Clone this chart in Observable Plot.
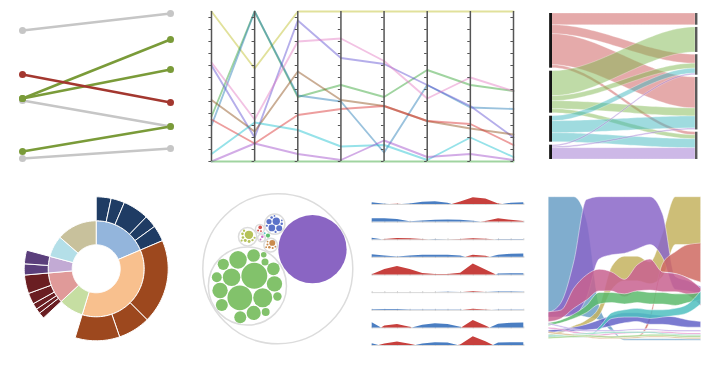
<!DOCTYPE html>
<html><head><meta charset="utf-8">
<script src="https://cdn.jsdelivr.net/npm/d3@7"></script>
<script src="https://cdn.jsdelivr.net/npm/@observablehq/plot@0.6"></script>
<style>
body{margin:0;background:#fff;}
#wrap{position:relative;width:713px;height:372px;overflow:hidden;background:#fff;}
</style></head><body><div id="wrap"></div>
<script>
// ================= DATA =================
// 1. Slope chart
const slopeSeries = ["a","b","c","d","e","f","g"];
const slopeBefore = [130, 62, 62, 86, 60, 9, 2];
const slopeAfter  = [147, 121, 91, 58, 34, 34, 12];
const slopeGroup  = ["neutral","gain","gain","loss","neutral","gain","neutral"];
const slopeColors = {neutral:"#c6c6c6", gain:"#7a9b39", loss:"#a3372f"};

// 2. Parallel coordinates
const parDims = ["d1","d2","d3","d4","d5","d6","d7","d8"];
const parValues = [
  [1.00, 0.62, 1.00, 1.00, 1.00, 1.00, 1.00, 1.00],
  [0.30, 1.00, 0.43, 0.51, 0.43, 0.61, 0.51, 0.47],
  [0.24, 1.00, 0.44, 0.40, 0.06, 0.51, 0.36, 0.35],
  [0.64, 0.16, 0.94, 0.69, 0.65, 0.51, 0.37, 0.16],
  [0.66, 0.28, 0.80, 0.82, 0.67, 0.42, 0.56, 0.47],
  [0.41, 0.20, 0.60, 0.41, 0.37, 0.27, 0.22, 0.18],
  [0.28, 0.12, 0.31, 0.35, 0.37, 0.27, 0.25, 0.11],
  [0.05, 0.26, 0.21, 0.10, 0.11, 0.01, 0.16, 0.03],
  [0.00, 0.12, 0.05, 0.01, 0.14, 0.03, 0.05, 0.01],
  [0.00, 0.00, 0.00, 0.00, 0.00, 0.00, 0.00, 0.00]
];
const parColors = ["#bcbd22","#2ca02c","#1f77b4","#5b4bd1","#e377c2","#8a4a12","#d62728","#17becf","#9b45c8","#2ca02c"];
const parTickValues = [0,0.08,0.16,0.24,0.32,0.40,0.48,0.56,0.64,0.72,0.80,0.88,0.96];

// 3. Sankey
const sankeyLeft = ["A","B","C","D"];
const sankeyRight = ["R1","R2","R3","R4","R5"];
const sankeyFlows = [
  [0,0,11.7],[0,2,9],[0,3,31],[0,4,3],
  [1,1,25],[1,2,5],[1,3,8],[1,4,4],
  [2,2,5],[2,3,12],[2,4,9],
  [3,2,1.5],[3,3,1.5],[3,4,11.3]
];
const sankeyColors = ["#cc5555","#7fb850","#40b8c0","#9b72cf"];

// 4. Sunburst
const sunRing = ["blue","peach","green","rose","lavender","cyan","khaki"];
const sunRingValues = [67, 130, 30, 38, 20, 26, 49];
const sunChildValues = [[12,11,21,10,13],[68,26,36],[],[5,4,5,9,15],[9,11],[],[]];
const sunRingColors = ["#93b5dc","#f8c08e","#c6dea2","#e09a99","#c2aad4","#b4dfe8","#c8c19c"];
const sunChildColors = ["#1f3c64","#9d481e",null,"#6a1e22","#5b3f7c",null,null];

// 5. Circle packing
const packGreen = [151,137,81,69,69,53,53,45,36,36,32,32,28,22,16,14,11,7];
const packPurple = 1043;
const packBlue = [12,10,8,6,1.5,1.5,1,1,0.7,0.7];
const packOlive = [16,2,2,1.5,1.5,1.2,1.2,1,1];
const packOrange = [8,1.5,1,1,0.7,0.7,0.7];
const packRed = [3,0.8,0.8];
const packGreenSmall = 4;
const packPink = [1.5,0.8];
const packCyan = 0.8;
const packColors = {green:"#82c26b",purple:"#8a65c3",blue:"#5b73c9",olive:"#b5c25a",orange:"#c98a4c",red:"#d4504a",greenSmall:"#5fbf6e",pink:"#cf6fc8",cyan:"#5cc3c6"};
const packOrientation = 29.5; // degrees: direction from the green group to the purple circle

// 6. Horizon rows (13 samples each)
const horizonRows = [
  [-0.14,-0.02,0.03,-0.05,-0.18,-0.22,-0.10,0.20,0.55,0.45,0.05,-0.10,-0.14],
  [-0.28,-0.28,-0.22,-0.03,-0.10,-0.15,-0.17,-0.15,-0.08,0.05,0.28,0.15,0.05],
  [-0.12,0.03,0.10,0.08,0.02,-0.02,0.00,0.02,0.08,0.05,-0.02,-0.03,-0.02],
  [-0.22,-0.12,-0.03,-0.12,-0.17,-0.17,-0.17,-0.12,0.18,0.10,-0.18,-0.25,-0.28],
  [0.02,0.45,0.68,0.45,0.12,0.04,0.05,0.15,0.90,0.40,-0.08,-0.11,-0.10],
  [0.00,-0.02,-0.02,0.00,-0.02,-0.02,-0.03,-0.02,0.08,0.00,-0.05,-0.05,-0.03],
  [-0.05,-0.07,-0.07,-0.03,-0.02,-0.02,-0.02,-0.02,0.08,0.02,-0.02,-0.03,-0.02],
  [-0.42,0.15,0.28,0.05,-0.22,-0.33,-0.28,-0.05,0.60,0.15,-0.30,-0.38,-0.39],
  [-0.14,0.12,0.28,0.10,-0.12,-0.22,-0.20,0.05,0.70,0.30,-0.20,-0.22,-0.22]
];
const horizonTicks = [0,1,2,3,4,5,6,7,8,9,10,11,12];

// 7. Stream bands (13 samples: lower and upper edge)
const streamNames = ["blue","olive","purple","red","pink","green","slate","teal","lav","pink2","mint","tan","lgreen"];
const streamLo = [
  [19.5,19.5,19,17,15,7,1,1,1,1,1,1,1],
  [4,6,9,12,18,36,42,42,40,45,67,67,67],
  [17,17,18,30,57,60,61,64,67,58,36,35,33],
  [3,3,3,3,3,3,3,3,14,48,47,44,41],
  [13.8,16,23,28.7,35,35,31,35,35.6,34.5,34.5,32,25],
  [11,13,16,20,26,27,26,27,26,26,25,27,29],
  [6,7,7,8,9,11,13,14,12,12,11,10,10],
  [3,3,3,3,8,16,17,17,16,17,18,20,26],
  [12,10,8,7,7,7,7.5,8,8,7.5,7,7,7],
  [9,8,6,5,4,5,5.5,6,6,6,5.5,5,5],
  [4,4,4.5,5,5.5,6,6,6,6,5,4.5,4,4],
  [6,5,4,3,2,2,2,2.5,3,3,2.5,2,2],
  [2,2.5,3,3.5,3,2.5,3,3.5,4,4,3.5,3,3]
];
const streamHi = [
  [100,100,100,84,25,10,2,2,2,2,2,2,2],
  [5,7.5,11,15,24,52,59,59,55,75,100,100,100],
  [20,27,55,98,100,100,100,100,100,88,45,42,38],
  [4,4,4,4,4,4,4,4,18,54,62,67,68],
  [20.7,21.8,36.8,46,50,48,43,53,57,48,47,43.7,36.8],
  [13,15,19,25,34,34,33,35,34,34,33,33,34],
  [8,9,10,12,15,18,20,20,19,18,17,15,14],
  [4,4,4,4,10,20,22,23,22,22,23,26,35],
  [13,11,9,8,8,8,8.5,9,9,8.5,8,8,8],
  [10,9,7,6,5,6,6.5,7,7,7,6.5,6,6],
  [5,5,5.5,6,6.5,7,7,7,7,6,5.5,5,5],
  [7,6,5,4,3,3,3,3.5,4,4,3.5,3,3],
  [3.2,3.7,4.2,4.7,4.2,3.7,4.2,4.7,5.2,5.2,4.7,4.2,4.2]
];
const streamColors = ["#6a9fc6","#c4b35f","#8a66c8","#cf6a62","#c8618f","#5cba6c","#6464c8","#4fbfc0","#b9a0e6","#e48ac8","#86d7c0","#d9b27c","#a5d68a"];

// ================= RENDER =================
const wrap = document.getElementById("wrap");
function mount(svg, left, top){
  svg.style.position = "absolute"; svg.style.left = left + "px"; svg.style.top = top + "px";
  wrap.appendChild(svg);
}

// ---- 1. slope ----
const slopeData = slopeSeries.map((s,i)=>({s, a:slopeBefore[i], b:slopeAfter[i], g:slopeGroup[i]}))
  .sort((p,q)=>(p.g==="neutral"?0:1)-(q.g==="neutral"?0:1));
const slopeDots = slopeData.flatMap(d=>[{x:0,y:d.a,g:d.g},{x:1,y:d.b,g:d.g}]);
mount(Plot.plot({
  width:190, height:175, marginLeft:22, marginRight:20, marginTop:10, marginBottom:15,
  x:{domain:[0,1], axis:null}, y:{domain:[0,150], axis:null},
  marks:[
    Plot.link(slopeData,{x1:()=>0, x2:()=>1, y1:"a", y2:"b", stroke:d=>slopeColors[d.g], strokeWidth:2.5}),
    Plot.dot(slopeDots,{x:"x", y:"y", r:3.5, fill:d=>slopeColors[d.g]})
  ]
}), 0, 0);

// ---- 2. parallel coordinates ----
const parData = parValues.flatMap((vals,k)=>vals.map((v,i)=>({k,i,v})));
const parTicks = parDims.flatMap((d,i)=>parTickValues.map(v=>({i,v})));
mount(Plot.plot({
  width:330, height:175, marginLeft:16, marginRight:12, marginTop:11, marginBottom:14,
  x:{domain:[0,parDims.length-1], axis:null}, y:{domain:[0,1], axis:null},
  marks:[
    Plot.line(parData,{x:"i", y:"v", z:"k", stroke:d=>parColors[d.k], strokeOpacity:0.45, strokeWidth:1.9}),
    Plot.ruleX(parDims.map((d,i)=>i),{y1:()=>0, y2:()=>1, stroke:"#555", strokeWidth:1.5}),
    Plot.ruleY(parTicks,{x1:d=>d.i-0.06, x2:d=>d.i, y:"v", stroke:"#555", strokeWidth:1})
  ]
}), 195, 0);

// ---- 3. sankey ----
const sankeySpan = 146;
const leftTotals = sankeyLeft.map((_,s)=>d3.sum(sankeyFlows.filter(f=>f[0]===s), f=>f[2]));
const rightTotals = sankeyRight.map((_,t)=>d3.sum(sankeyFlows.filter(f=>f[1]===t), f=>f[2]));
function stackNodes(totals){
  const gap = (sankeySpan - d3.sum(totals)) / (totals.length - 1);
  let y = 0;
  return totals.map(t=>{ const n = {y0:y, y1:y+t}; y += t + gap; return n; });
}
const leftNodes = stackNodes(leftTotals), rightNodes = stackNodes(rightTotals);
const links = sankeyFlows.map(([s,t,v],id)=>({s,t,v,id}));
const srcCursor = leftNodes.map(n=>n.y0), tgtCursor = rightNodes.map(n=>n.y0);
[...links].sort((a,b)=>a.s-b.s || a.t-b.t).forEach(l=>{ l.sy = srcCursor[l.s]; srcCursor[l.s] += l.v; });
[...links].sort((a,b)=>a.t-b.t || a.s-b.s).forEach(l=>{ l.ty = tgtCursor[l.t]; tgtCursor[l.t] += l.v; });
const linkPts = links.flatMap(l=>d3.range(0,41).map(k=>{
  const x = k/40, e = x*x*(3-2*x);
  const top = l.sy + (l.ty - l.sy)*e;
  return {id:l.id, s:l.s, x, y1:top, y2:top + l.v};
}));
mount(Plot.plot({
  width:183, height:175, marginLeft:22, marginRight:18, marginTop:13, marginBottom:16,
  x:{domain:[0,1], axis:null}, y:{domain:[0,sankeySpan], reverse:true, axis:null},
  marks:[
    Plot.area(linkPts,{x1:"x", y1:"y1", y2:"y2", z:"id", fill:d=>sankeyColors[d.s], fillOpacity:0.5, stroke:"white", strokeOpacity:0.6, strokeWidth:0.5}),
    Plot.rect(leftNodes,{x1:()=>-0.02, x2:()=>0, y1:"y0", y2:"y1", fill:"#151515"}),
    Plot.rect(rightNodes,{x1:()=>1, x2:()=>1.017, y1:"y0", y2:"y1", fill:"#5a5a5a"})
  ]
}), 530, 0);

// ---- 4. sunburst ----
const sunRoot = d3.partition().size([360,3])(
  d3.hierarchy({children: sunRing.map((name,i)=> sunChildValues[i].length
      ? {name, i, children: sunChildValues[i].map(v=>({value:v, i}))}
      : {name, i, value: sunRingValues[i]})})
    .sum(d=>d.children ? 0 : d.value)
);
const sunPolys = sunRoot.descendants().filter(d=>d.depth>0).flatMap((d,j)=>{
  const fill = d.depth===1 ? sunRingColors[d.data.i] : sunChildColors[d.data.i];
  const n = Math.max(2, Math.ceil((d.x1-d.x0)/2));
  const pts = [];
  for (let k=0;k<=n;k++){ const a=(d.x0+(d.x1-d.x0)*k/n)*Math.PI/180; pts.push({x:d.y1*Math.sin(a), y:d.y1*Math.cos(a)}); }
  for (let k=n;k>=0;k--){ const a=(d.x0+(d.x1-d.x0)*k/n)*Math.PI/180; pts.push({x:d.y0*Math.sin(a), y:d.y0*Math.cos(a)}); }
  pts.push(pts[0]);
  return pts.map(p=>({...p, id:j, fill}));
});
mount(Plot.plot({
  width:190, height:175, marginLeft:23.7, marginRight:22.3, marginTop:11.3, marginBottom:19.7,
  x:{domain:[-3,3], axis:null}, y:{domain:[-3,3], axis:null},
  marks:[
    Plot.line(sunPolys,{x:"x", y:"y", z:"id", fill:"fill", stroke:"white", strokeWidth:1})
  ]
}), 0, 185);

// ---- 5. circle packing ----
const packTree = {children:[
  {g:"green", children:packGreen.map(v=>({value:v, g:"green"}))},
  {g:"purple", value:packPurple},
  {g:"blue", children:packBlue.map(v=>({value:v, g:"blue"}))},
  {g:"olive", children:packOlive.map(v=>({value:v, g:"olive"}))},
  {g:"orange", children:packOrange.map(v=>({value:v, g:"orange"}))},
  {g:"red", children:packRed.map(v=>({value:v, g:"red"}))},
  {g:"greenSmall", value:packGreenSmall},
  {g:"pink", children:packPink.map(v=>({value:v, g:"pink"}))},
  {g:"cyan", value:packCyan}
]};
// top level: smallest first; inside groups: largest first (tighter groups)
const packRoot = d3.pack().size([150,150]).padding(1.1)(
  d3.hierarchy(packTree).sum(d=>d.children?0:d.value)
    .sort((a,b)=>a.depth===1 ? a.value-b.value : b.value-a.value));
// orient the layout: rotate so the green->purple axis points along packOrientation,
// mirror if needed so that the small groups sit on the upper side
const byG = g => packRoot.children.find(c=>c.data.g===g);
const up = n => [n.x - packRoot.x, -(n.y - packRoot.y)];
const [gx,gy] = up(byG("green")), [px,py] = up(byG("purple")), [bx,by] = up(byG("blue"));
const phi = packOrientation*Math.PI/180;
const theta = phi - Math.atan2(py-gy, px-gx);
const rot = ([x,y]) => [x*Math.cos(theta)-y*Math.sin(theta), x*Math.sin(theta)+y*Math.cos(theta)];
const [rgx,rgy] = rot([gx,gy]), [rpx,rpy] = rot([px,py]), [rbx,rby] = rot([bx,by]);
const needMirror = ((rpx-rgx)*(rby-rgy) - (rpy-rgy)*(rbx-rgx)) < 0;
const mirror = ([x,y]) => needMirror
  ? [x*Math.cos(2*phi)+y*Math.sin(2*phi), x*Math.sin(2*phi)-y*Math.cos(2*phi)] : [x,y];
const packNodes = packRoot.descendants().map(n=>{
  const [x,y] = mirror(rot(up(n)));
  return {x, y, r:n.r, leaf:!n.children, g:n.data.g};
});
const R = packRoot.r;
mount(Plot.plot({
  width:170, height:175, marginLeft:12.3, marginRight:7.7, marginTop:8.3, marginBottom:16.7,
  x:{domain:[-R,R], axis:null}, y:{domain:[-R,R], axis:null},
  r:{type:"linear", domain:[0,R], range:[0,(170-12.3-7.7)/2]},
  marks:[
    Plot.dot(packNodes.filter(d=>!d.leaf),{x:"x", y:"y", r:"r", fill:"white", stroke:"#dcdcdc", strokeWidth:1.5, sort:null}),
    Plot.dot(packNodes.filter(d=>d.leaf),{x:"x", y:"y", r:"r", fill:d=>packColors[d.g], sort:null})
  ]
}), 190, 185);

// ---- 6. horizon ----
const horizonData = horizonRows.flatMap((vals,row)=>{
  const out = [];
  vals.forEach((v,i)=>{
    if (i>0){ const p = vals[i-1]; if ((p<0&&v>0)||(p>0&&v<0)) out.push({row, x:i-1+p/(p-v), v:0}); }
    out.push({row, x:i, v});
  });
  return out;
});
mount(Plot.plot({
  width:170, height:175, marginTop:6.66, marginBottom:15, marginLeft:11.7, marginRight:6.7,
  facet:{data:horizonData, y:"row", marginTop:0, marginRight:0, marginBottom:0, marginLeft:0},
  fy:{axis:null, paddingInner:0.3, paddingOuter:0, round:false},
  x:{domain:[0,12], axis:null}, y:{domain:[0,1], axis:null},
  marks:[
    Plot.ruleY([0],{stroke:"#d8d8d8"}),
    Plot.ruleX(horizonTicks,{y1:()=>-0.08, y2:()=>0.08, stroke:"#cfcfcf"}),
    Plot.area(horizonData,{x1:"x", y1:()=>0, y2:d=>Math.max(0,-d.v), fill:"#4a7ec2"}),
    Plot.area(horizonData,{x1:"x", y1:()=>0, y2:d=>Math.max(0,d.v), fill:"#c7403d"})
  ]
}), 360, 185);

// ---- 7. stream bands ----
const streamData = streamNames.flatMap((name,b)=>streamLo[b].map((lo,i)=>({b, i, lo, hi:streamHi[b][i]})));
mount(Plot.plot({
  width:178, height:175, marginLeft:13.3, marginRight:12.3, marginTop:11.7, marginBottom:18.3,
  x:{domain:[0,12], axis:null}, y:{domain:[0,100], axis:null},
  marks:[
    Plot.area(streamData,{x1:"i", y1:"lo", y2:"hi", z:"b", fill:d=>streamColors[d.b], fillOpacity:0.85,
      stroke:"white", strokeWidth:0.6, strokeOpacity:0.8, curve:"monotone-x"})
  ]
}), 535, 185);
</script></body></html>
